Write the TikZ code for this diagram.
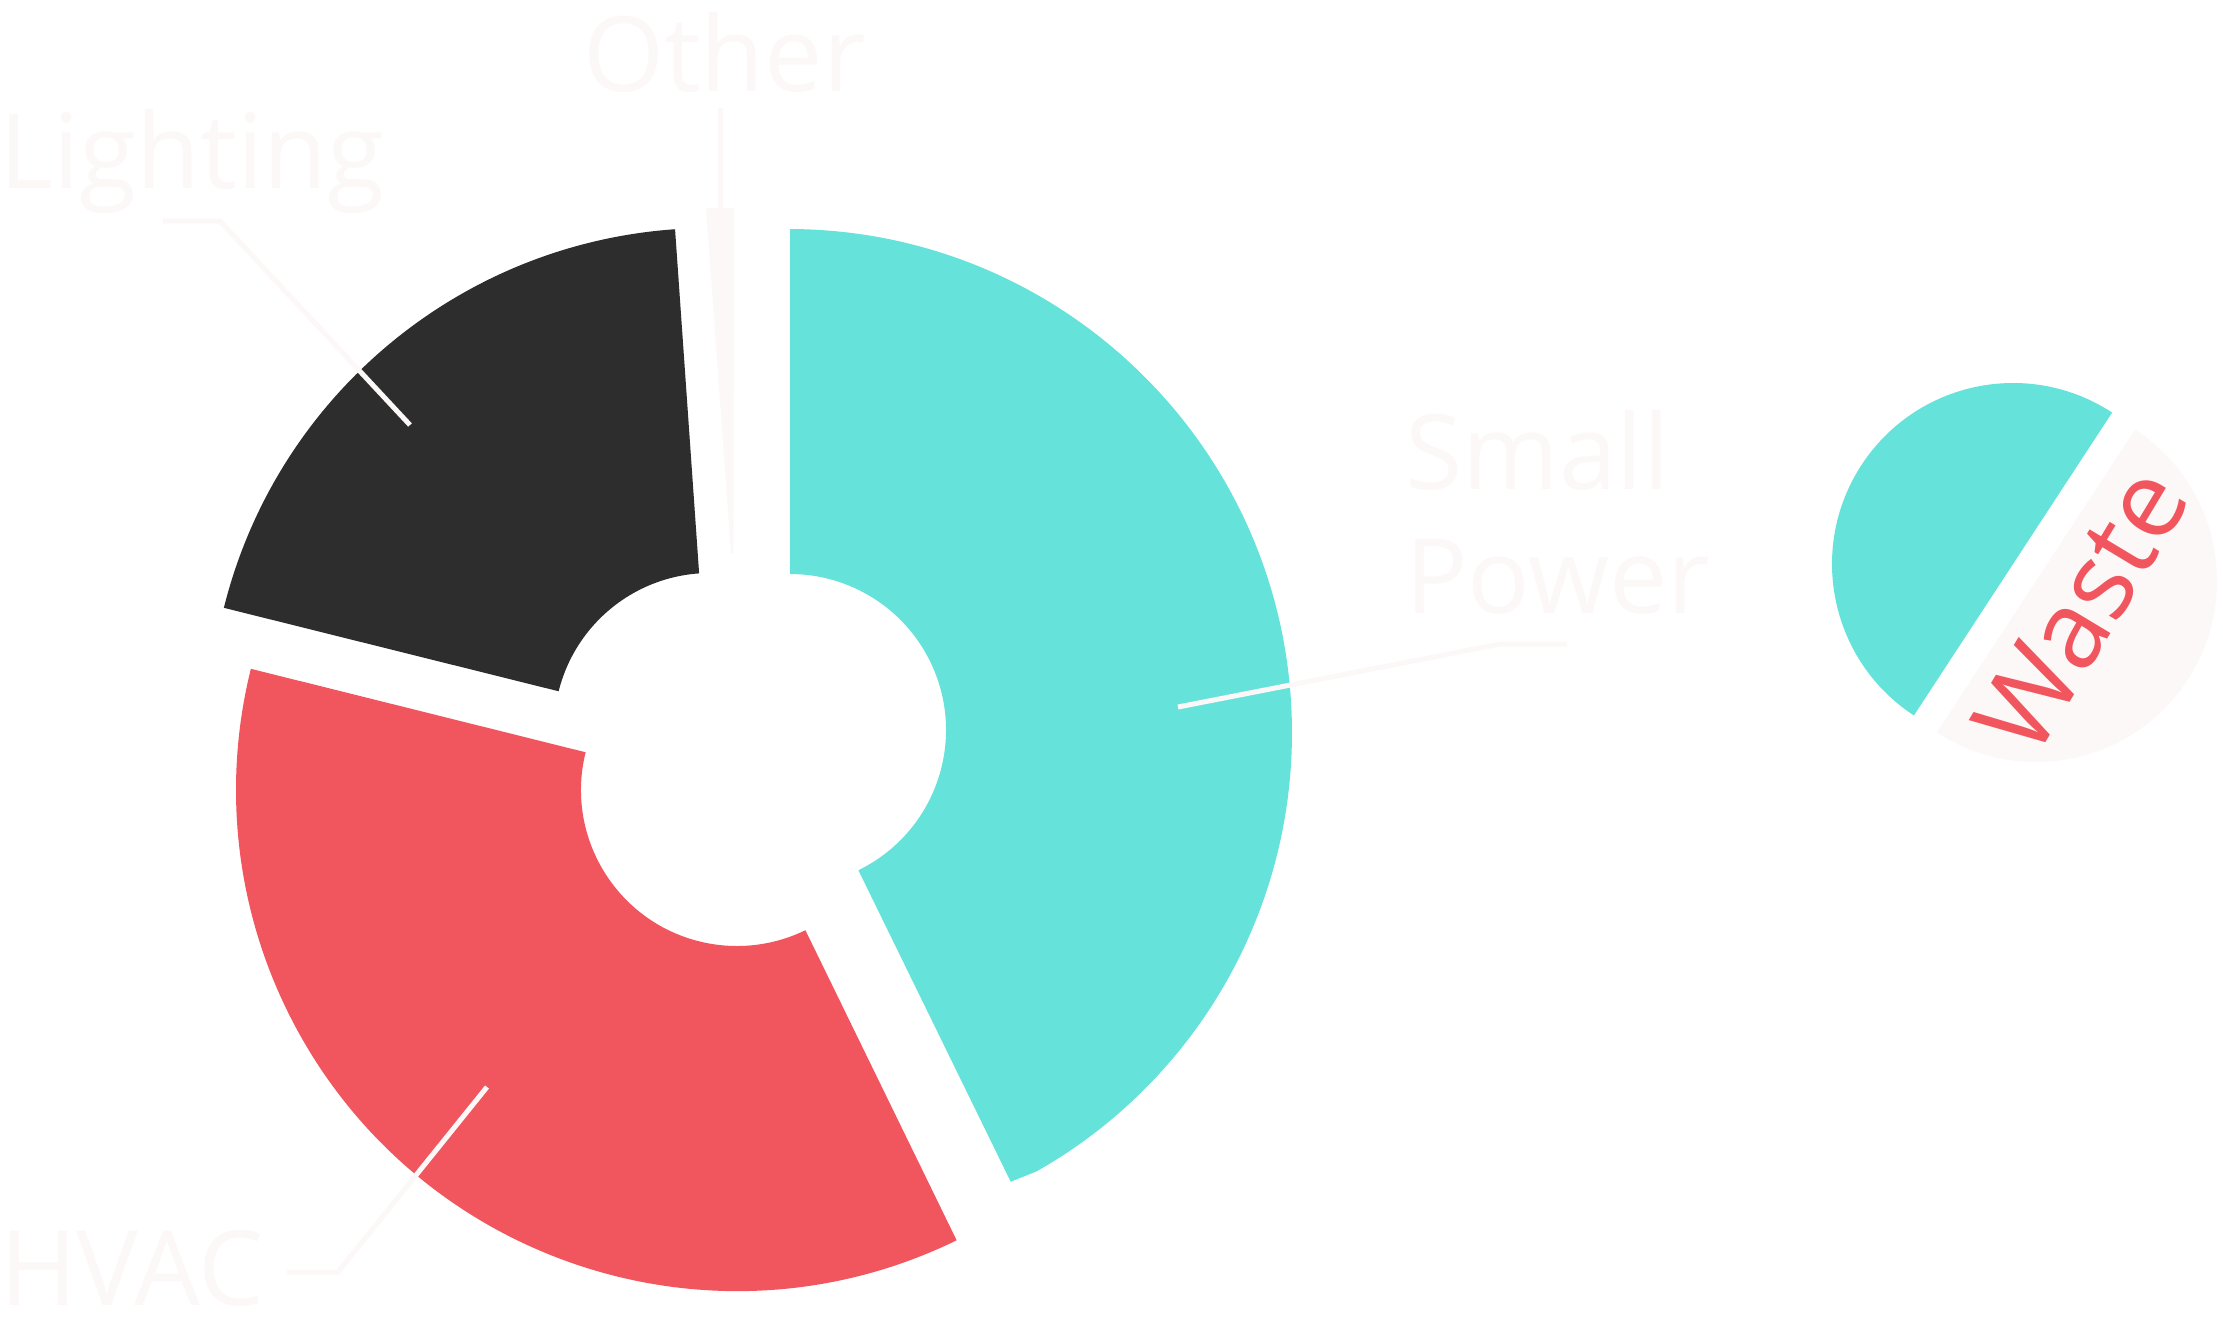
\documentclass[tikz,border=0pt]{standalone}
\usepackage{fontspec}
\setmainfont{Open Sans}
\usetikzlibrary{calc}
\definecolor{tealc}{HTML}{65E3DB}
\definecolor{redc}{HTML}{F1565E}
\definecolor{darkc}{HTML}{2D2D2D}
\definecolor{lightc}{HTML}{FDF8F8}
\begin{document}
\begin{tikzpicture}[x=1pt,y=-1pt,
  lbl/.style={text=lightc,inner sep=0pt,anchor=base west,font=\fontsize{104}{124}\selectfont},
  leader/.style={draw=lightc,line width=5pt}]
\useasboundingbox (0,0) rectangle (2223,1334);
\fill[white] (0,0) rectangle (2223,1334);
% Small Power (teal)
\fill[tealc] (790,229) arc[start angle=-89.77,end angle=60.45,radius=504]
  -- (1010.7,1181.7)
  -- ([shift={(64:156)}]790,730) arc[start angle=64,end angle=-90,radius=156] -- cycle;
% Lighting (dark)
\fill[darkc] ([shift={(-166:501)}]710,729) arc[start angle=-166,end angle=-94,radius=501]
  -- ([shift={(-94:156)}]710,729) arc[start angle=-94,end angle=-166,radius=156] -- cycle;
% HVAC (red)
\fill[redc] ([shift={(64:501)}]737,790) arc[start angle=64,end angle=194,radius=501]
  -- ([shift={(194:156)}]737,790) arc[start angle=194,end angle=64,radius=156] -- cycle;
% Other (sliver)
\fill[lightc] (706,208) -- (734,208) -- (733.5,553) -- (731,553) -- cycle;
% labels
\node[lbl] (other) at (583,91) {Other};
\node[lbl] (lighting) at (-1,188) {Lighting};
\node[lbl] (small) at (1405,489) {Small};
\node[lbl] (power) at (1405,613) {Power};
\node[lbl] (hvac) at (0,1305) {HVAC};
% leaders
\coordinate (o1) at (720,108);
\coordinate (o2) at (720,209);
\draw[leader] (o1) -- (o2);
\coordinate (l1) at (163,221);
\coordinate (l2) at (220,221);
\coordinate (l3) at (410,425);
\draw[leader] (l1) -- (l2) -- (l3);
\coordinate (s1) at (1178,707);
\coordinate (s2) at (1500,644);
\coordinate (s3) at (1567,644);
\draw[leader] (s1) -- (s2) -- (s3);
\coordinate (h1) at (487,1087);
\coordinate (h2) at (338,1272);
\coordinate (h3) at (287,1272);
\draw[leader] (h1) -- (h2) -- (h3);
% small pie
\fill[tealc] ([shift={(123.2:181)}]2013,564) arc[start angle=123.2,end angle=303.2,radius=181] -- cycle;
\fill[lightc] ([shift={(-56.8:181)}]2036,581) arc[start angle=-56.8,end angle=123.2,radius=181] -- cycle;
\node[text=redc,inner sep=0pt,anchor=base west,rotate=59,font=\fontsize{108}{128}\selectfont] (waste) at (2034,762) {Waste};
\end{tikzpicture}
\end{document}
